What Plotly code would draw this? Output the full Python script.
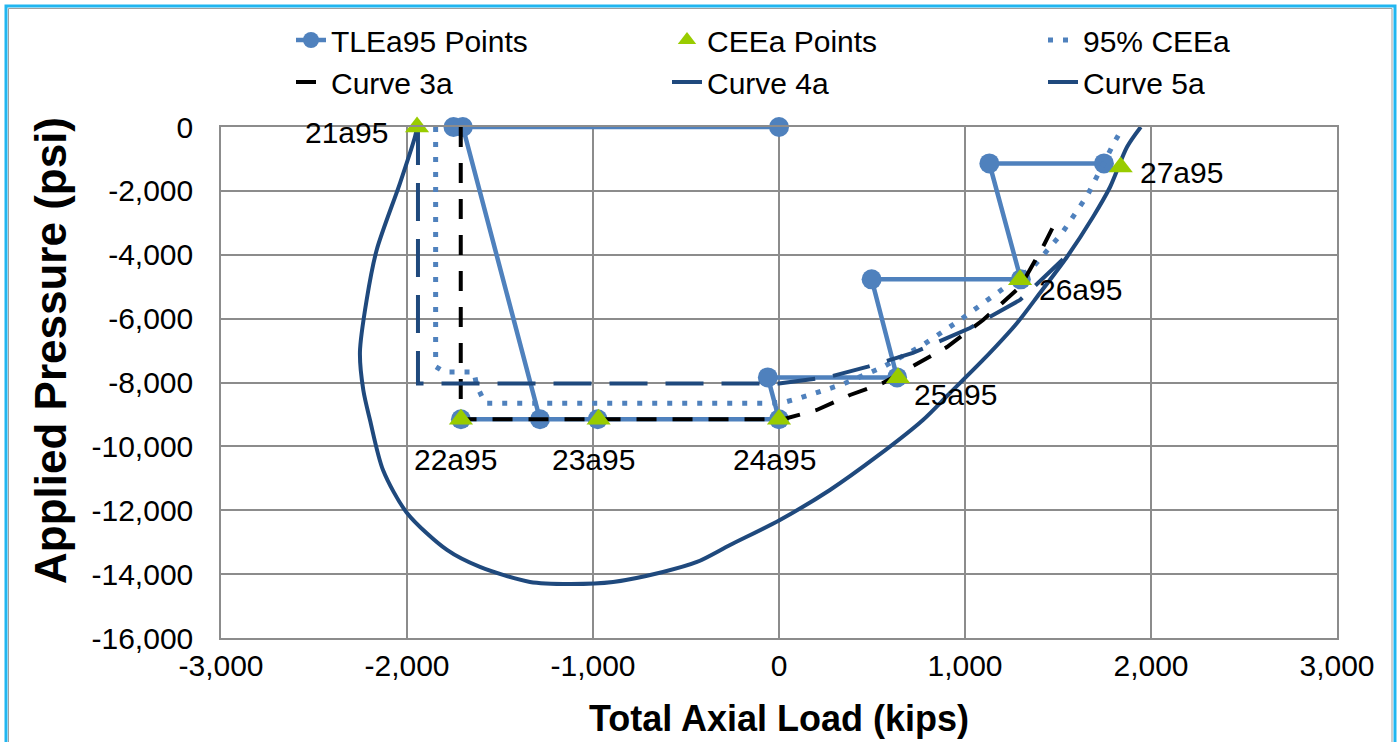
import plotly.graph_objects as go

# ---- data -----------------------------------------------------------------
# TLEa95 points (total axial load in kips, applied pressure in psi), in path order
tle_load = [0, -1750, -1700, -1285, -1710, -975, 0, -60, 635, 498, 1300, 1131, 1747]
tle_pres = [0, 0, 0, -9150, -9150, -9150, -9150, -7840, -7840, -4770, -4770, -1140, -1140]

# CEEa points with their names
cee_names = ["21a95", "22a95", "23a95", "24a95", "25a95", "26a95", "27a95"]
cee_load = [-1946, -1710, -970, 0, 640, 1296, 1837]
cee_pres = [0, -9150, -9150, -9150, -7850, -4780, -1250]

# 95% CEEa envelope
ce95_load = [-1846, -1846, -1800, -1640, -1625, -1580, -60, 41, 113, 203, 344, 559,
             774, 973, 1172, 1366, 1522, 1656, 1801, 1850]
ce95_pres = [0, -7500, -7670, -7670, -8100, -8650, -8650, -8600, -8485, -8328, -8050,
             -7514, -6825, -6043, -5197, -4383, -3319, -2160, -501, 0]

# Curve 3a
c3_load = [-1711, -1711, 0, 41, 203, 382, 559, 704, 903, 1097, 1296, 1419, 1489]
c3_pres = [0, -9150, -9150, -9120, -8860, -8391, -8015, -7545, -6888, -6043, -5009, -3757, -2943]

# Curve 4a
c4_load = [1945, 1871, 1780, 1688, 1548, 1403, 1280, 1097, 919, 774, 530, 274, 5,
           -263, -441, -624, -892, -1124, -1339, -1608, -1785, -2000, -2129,
           -2199, -2235, -2253, -2217, -2163, -2038, -1957, -1945]
c4_pres = [0, -626, -1879, -2818, -4070, -5197, -6136, -7295, -8328, -9173, -10300,
           -11365, -12304, -13087, -13619, -13932, -14245, -14308, -14245, -13776,
           -13244, -12085, -10739, -9173, -8234, -7050, -5416, -3851, -1763, -303, 0]

# Curve 5a
c5_load = [-1941, -1941, 0, 274, 478, 720, 1027, 1296, 1540]
c5_pres = [0, -8030, -8030, -7818, -7505, -7076, -6293, -5416, -4070]

# axis ticks
x_ticks = [-3000, -2000, -1000, 0, 1000, 2000, 3000]
x_tick_text = ["-3,000", "-2,000", "-1,000", "0", "1,000", "2,000", "3,000"]
y_ticks = [0, -2000, -4000, -6000, -8000, -10000, -12000, -14000, -16000]
y_tick_text = ["0", "-2,000", "-4,000", "-6,000", "-8,000", "-10,000", "-12,000",
               "-14,000", "-16,000"]

# ---- styling --------------------------------------------------------------
FONT = "Liberation Sans, Arial, sans-serif"
MID_BLUE = "#4F81BD"
DARK_BLUE = "#1F497D"
LIME = "#99CC00"
GRID = "#8C8C8C"

W, H = 1398, 742
L, R, T, B = 221, 61, 127, 104
PW, PH = W - L - R, H - T - B


def px_x(v):
    """pixel column -> paper fraction"""
    return (v - L) / PW


def px_y(v):
    """pixel row -> paper fraction"""
    return (H - B - v) / PH


fig = go.Figure()

fig.add_trace(go.Scatter(
    x=tle_load, y=tle_pres, mode="lines+markers", name="TLEa95 Points",
    line=dict(color=MID_BLUE, width=4.5),
    marker=dict(symbol="circle", size=20, color=MID_BLUE),
    cliponaxis=False, legend="legend", legendrank=1))

fig.add_trace(go.Scatter(
    x=ce95_load, y=ce95_pres, mode="lines", name="95% CEEa",
    line=dict(color=MID_BLUE, width=5, dash="5px,10px"),
    legend="legend3", legendrank=1))

fig.add_trace(go.Scatter(
    x=c3_load, y=c3_pres, mode="lines", name="Curve 3a",
    line=dict(color="black", width=4, dash="20px,16px"),
    legend="legend", legendrank=2))

fig.add_trace(go.Scatter(
    x=c4_load, y=c4_pres, mode="lines", name="Curve 4a",
    line=dict(color=DARK_BLUE, width=4, shape="spline", smoothing=0.8),
    legend="legend2", legendrank=2))

fig.add_trace(go.Scatter(
    x=c5_load, y=c5_pres, mode="lines", name="Curve 5a",
    line=dict(color=DARK_BLUE, width=4, dash="38px,18px"),
    legend="legend3", legendrank=2))

fig.add_trace(go.Scatter(
    x=cee_load, y=cee_pres, mode="markers", name="CEEa Points",
    marker=dict(symbol="triangle-up", size=21, color=LIME),
    cliponaxis=False, legend="legend2", legendrank=1))

# point labels: (anchor, x shift, y shift) per label
label_place = {
    "21a95": ("right", -27, -5),
    "22a95": ("center", -5, -40),
    "23a95": ("center", -5, -40),
    "24a95": ("center", -5, -40),
    "25a95": ("left", 14, -17),
    "26a95": ("left", 17, -10),
    "27a95": ("left", 17, -6),
}
for name, lx, py in zip(cee_names, cee_load, cee_pres):
    anchor, dx, dy = label_place[name]
    fig.add_annotation(x=lx, y=py, text=name, showarrow=False,
                       xanchor=anchor, yanchor="middle", xshift=dx, yshift=dy,
                       font=dict(family=FONT, size=30, color="black"))

# vertical axis title
fig.add_annotation(xref="paper", yref="paper", x=px_x(50), y=px_y(351),
                   text="<b>Applied Pressure (psi)</b>", textangle=-90,
                   showarrow=False, xanchor="center", yanchor="middle",
                   font=dict(family=FONT, size=44, color="black"))

# chart frame: light blue outline with a thin grey inner line
fig.add_shape(type="rect", xref="paper", yref="paper", layer="above",
              x0=px_x(6), x1=px_x(1395), y0=px_y(770), y1=px_y(6),
              line=dict(color="#21B6F0", width=3))
fig.add_shape(type="rect", xref="paper", yref="paper", layer="above",
              x0=px_x(8.5), x1=px_x(1392), y0=px_y(770), y1=px_y(8.5),
              line=dict(color="#A0A0A0", width=1))

axis_common = dict(showgrid=True, gridcolor=GRID, gridwidth=1.5,
                   showline=True, linecolor=GRID, linewidth=1.5, mirror=True,
                   zeroline=False, ticks="",
                   tickfont=dict(family=FONT, size=30, color="black"))

fig.update_xaxes(range=[-3000, 3000], tickvals=x_ticks, ticktext=x_tick_text,
                 ticklabelstandoff=0,
                 title=dict(text="<b>Total Axial Load (kips)</b>", standoff=25,
                            font=dict(family=FONT, size=36, color="black")),
                 **axis_common)
fig.update_yaxes(range=[-16000, 0], tickvals=y_ticks, ticktext=y_tick_text,
                 ticklabelstandoff=20, **axis_common)

legend_common = dict(orientation="v", yanchor="top", xanchor="left",
                     y=px_y(14), bgcolor="rgba(0,0,0,0)", traceorder="normal",
                     font=dict(family=FONT, size=30, color="black"))

fig.update_layout(
    width=W, height=H,
    margin=dict(l=L, r=R, t=T, b=B, autoexpand=False),
    paper_bgcolor="white", plot_bgcolor="white",
    font=dict(family=FONT, color="black"),
    showlegend=True,
    legend=dict(x=px_x(291), **legend_common),
    legend2=dict(x=px_x(667), **legend_common),
    legend3=dict(x=px_x(1043), **legend_common),
)

fig.write_html("out.html")
